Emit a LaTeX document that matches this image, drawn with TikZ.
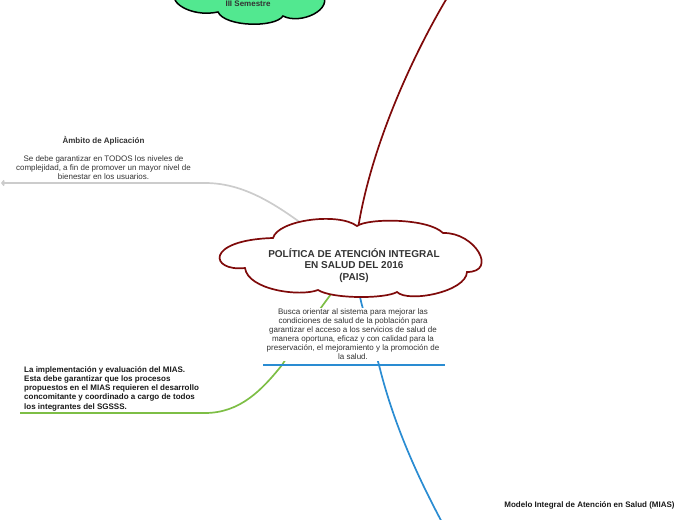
\documentclass[tikz,border=0pt]{standalone}
\usepackage{fontspec}
\setmainfont{Liberation Sans}
\usetikzlibrary{backgrounds,arrows.meta}

\definecolor{paisred}{HTML}{7F0A0A}
\definecolor{mintgreen}{HTML}{52E890}
\definecolor{leafgreen}{HTML}{7DBE45}
\definecolor{skyblue}{HTML}{2A8CD2}
\definecolor{softgray}{HTML}{CCCCCC}
\definecolor{inkgray}{HTML}{333333}

\tikzset{
  smalltext/.style={font=\fontsize{8}{9}\selectfont, text=inkgray, align=center, inner sep=1pt},
  boldtext/.style={font=\fontsize{8}{9.25}\selectfont\bfseries, text=black!90, inner sep=1pt},
  titletext/.style={font=\fontsize{10}{11.5}\selectfont\bfseries, text=inkgray, align=center, inner sep=1pt},
  branch/.style={line width=1.7pt},
}

\begin{document}
\begin{tikzpicture}[x=1pt,y=-1pt]
	\useasboundingbox (0,0) rectangle (697,520);
	\clip (0,0) rectangle (697,520);

	% semestre cloud (cut by the top edge)
	\draw[fill=mintgreen, line width=1.5pt] (178,-8) .. controls (165,0) and (190,18) .. (218,12)
		.. controls (225,27) and (275,28) .. (283,16)
		.. controls (300,25) and (335,10) .. (322,-8) -- (322,-30) -- (178,-30) -- cycle;
	\node[boldtext, text=inkgray] (semestre) at (248,4) {III Semestre};

	% central cloud
	\draw[paisred, fill=white, line width=1.7pt] (245,268) .. controls (210,272) and (204,240) .. (273,238)
		.. controls (278,220) and (338,212) .. (357,226)
		.. controls (368,218) and (428,218) .. (443,233)
		.. controls (475,232) and (498,272) .. (467,272)
		.. controls (466,292) and (408,303) .. (397,292)
		.. controls (385,299) and (332,299) .. (318,290)
		.. controls (300,297) and (248,290) .. (245,268) -- cycle;
	\node[titletext] (pais) at (354,265.5) {POLÍTICA DE ATENCIÓN INTEGRAL\\EN SALUD DEL 2016\\(PAIS)};

	% branches
	\node[smalltext] (ambito) at (103.5,158) {\textbf{Àmbito de Aplicación}\\[9pt]
		Se debe garantizar en TODOS los niveles de\\
		complejidad, a fin de promover un mayor nivel de\\
		bienestar en los usuarios.};

	\node[smalltext, fill=white] (desc) at (353,334.5) {Busca orientar al sistema para mejorar las\\
		condiciones de salud de la población para\\
		garantizar el acceso a los servicios de salud de\\
		manera oportuna, eficaz y con calidad para la\\
		preservación, el mejoramiento y la promoción de\\
		la salud.};

	\node[boldtext, align=left, anchor=west] (impl) at (23,388.5) {La implementación y evaluación del MIAS.\\
		Esta debe garantizar que los procesos\\
		propuestos en el MIAS requieren el desarrollo\\
		concomitante y coordinado a cargo de todos\\
		los integrantes del SGSSS.};

	\node[boldtext] (mias) at (589.5,505) {Modelo Integral de Atención en Salud (MIAS)};

	\coordinate (topend) at (447,-2);
	\coordinate (aplturn) at (205,183);
	\coordinate (aplend) at (1,183);
	\coordinate (descleft) at (263,365);
	\coordinate (descright) at (445,365);
	\coordinate (implup) at (282,365);
	\coordinate (implturn) at (205,413);
	\coordinate (implend) at (20,413);
	\coordinate (miasup) at (379,365);
	\coordinate (miasend) at (444,526);

	\draw[branch, skyblue] (descleft) -- (descright);

	\begin{scope}[on background layer]
		\clip (0,0) rectangle (697,520);
		\draw[branch, paisred] (pais.center) .. controls (359,170) and (410,60) .. (topend);
		\draw[branch, softgray, {Straight Barb[length=2pt,width=5pt]}-] (aplend) -- (aplturn)
			.. controls (240,183) and (270,200) .. (305,226) -- (pais.center);
		\draw[branch, leafgreen] (pais.center) .. controls (328,295) and (295,345) .. (implup)
			.. controls (262,390) and (240,413) .. (implturn) -- (implend);
		\draw[branch, skyblue] (pais.center) .. controls (360,300) .. (miasup)
			.. controls (395,430) and (422,485) .. (miasend);
	\end{scope}
\end{tikzpicture}
\end{document}
